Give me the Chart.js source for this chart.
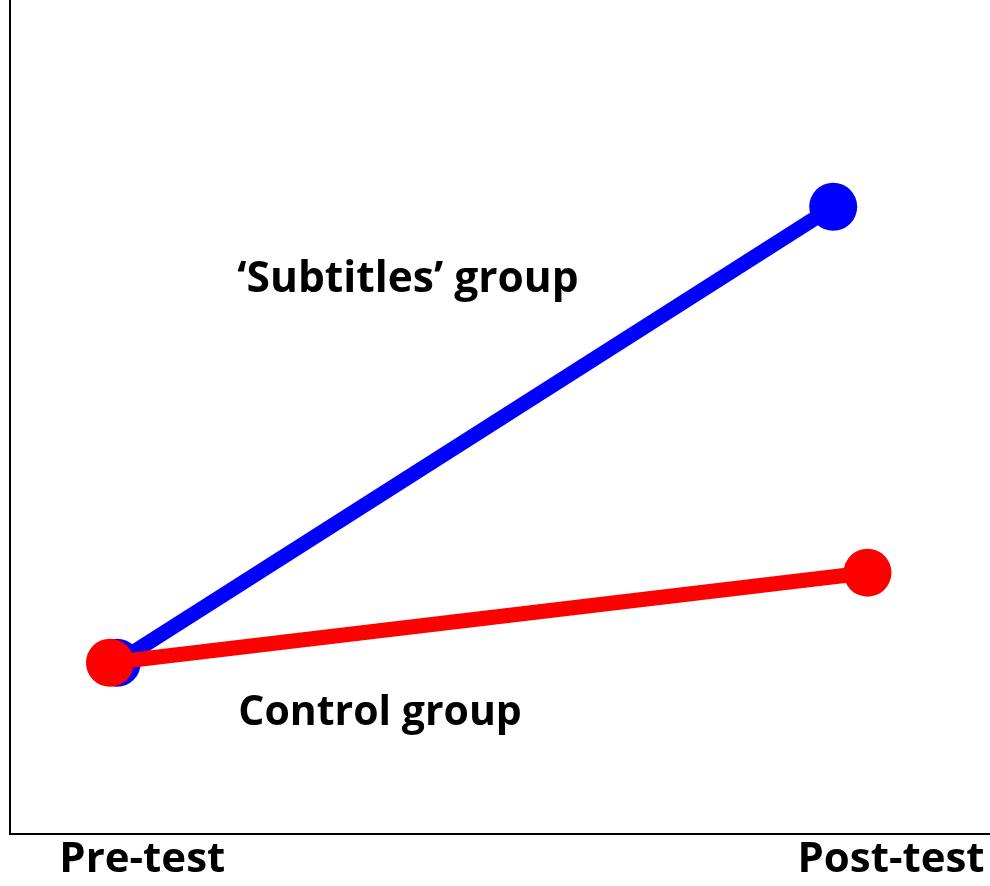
<!DOCTYPE html>
<html>
<head>
<meta charset="utf-8">
<script src="https://cdn.jsdelivr.net/npm/chart.js@4"></script>
<style>
    html, body { margin: 0; padding: 0; background: #fff; }
    #wrap { width: 990px; height: 886px; }
</style>
</head>
<body>
<div id="wrap"><canvas id="score_chart"></canvas></div>
<script>
// test moments (x position on the time axis, 0..1)
const tickValues = [0.135, 0.899];
const tickLabels = ["Pre-test", "Post-test"];

// 'Subtitles' group
const subtitlesX = [0.109, 0.840];
const subtitlesY = [20.5, 75.2];

// Control group
const controlX = [0.102, 0.875];
const controlY = [20.5, 31.3];

const seriesLabels = ["\u2018Subtitles\u2019 group", "Control group"];

const FONT = "'Open Sans', sans-serif";

// group names written next to the lines
const groupLabels = {
    id: "groupLabels",
    afterDatasetsDraw(chart) {
        const ctx = chart.ctx;
        const x = chart.scales.x;
        const y = chart.scales.y;
        ctx.save();
        ctx.fillStyle = "#000";
        ctx.textBaseline = "alphabetic";
        ctx.textAlign = "left";
        ctx.font = "bold 42.5px " + FONT;
        ctx.fillText(seriesLabels[0], x.getPixelForValue(0.232), y.getPixelForValue(65));
        ctx.font = "bold 41px " + FONT;
        ctx.fillText(seriesLabels[1], x.getPixelForValue(0.233), y.getPixelForValue(13));
        ctx.restore();
    }
};

function drawScoreChart() {
    const subtitlesData = subtitlesX.map((v, i) => ({ x: v, y: subtitlesY[i] }));
    const controlData = controlX.map((v, i) => ({ x: v, y: controlY[i] }));

    new Chart(document.getElementById("score_chart"), {
        type: "line",
        data: {
            datasets: [{
                label: seriesLabels[0],
                data: subtitlesData,
                borderColor: "#0000ff",
                backgroundColor: "#0000ff",
                borderWidth: 15,
                pointRadius: 24,
                pointHoverRadius: 24,
                pointBorderWidth: 0,
                order: 1
            }, {
                label: seriesLabels[1],
                data: controlData,
                borderColor: "#ff0000",
                backgroundColor: "#ff0000",
                borderWidth: 15,
                pointRadius: 24,
                pointHoverRadius: 24,
                pointBorderWidth: 0,
                order: 0
            }]
        },
        options: {
            responsive: true,
            maintainAspectRatio: false,
            animation: false,
            layout: { autoPadding: false, padding: { left: 10, right: 0, top: 0, bottom: 0 } },
            plugins: {
                legend: { display: false },
                tooltip: { enabled: false }
            },
            scales: {
                x: {
                    type: "linear",
                    min: 0,
                    max: 1,
                    grid: { display: false, drawTicks: false },
                    border: { display: true, color: "#000", width: 2 },
                    afterBuildTicks: axis => {
                        axis.ticks = tickValues.map(v => ({ value: v }));
                    },
                    ticks: {
                        autoSkip: false,
                        maxRotation: 0,
                        padding: 1,
                        color: "#000",
                        font: { family: FONT, size: 42, weight: "bold" },
                        callback: (value, index) => tickLabels[index]
                    }
                },
                y: {
                    min: 0,
                    max: 100,
                    grid: { display: false, drawTicks: false },
                    border: { display: true, color: "#000", width: 2 },
                    ticks: { display: false }
                }
            }
        },
        plugins: [groupLabels]
    });
}

document.addEventListener("DOMContentLoaded", drawScoreChart);
</script>
</body>
</html>
